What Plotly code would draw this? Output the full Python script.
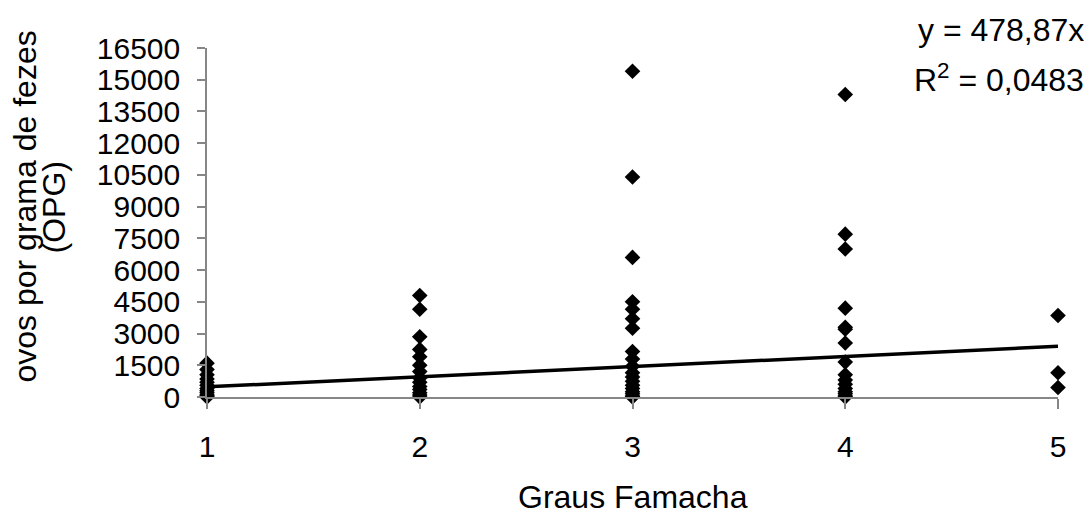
import plotly.graph_objects as go

# Data (OPG per Famacha grade)
grau1 = [1600, 1300, 1050, 850, 700, 550, 400, 300, 200, 100, 50, 0]
grau2 = [4800, 4150, 2850, 2250, 1900, 1500, 1200, 900, 700, 500, 350, 200, 100, 0]
grau3 = [15400, 10400, 6600, 4500, 4150, 3700, 3250, 2150, 1800, 1450, 1150, 950,
         750, 550, 400, 250, 150, 50, 0]
grau4 = [14300, 7700, 7000, 4200, 3300, 3200, 2550, 1650, 1050, 800, 600, 400,
         250, 150, 50, 0]
grau5 = [3850, 1150, 450]

slope = 478.87
r2_text = "0,0483"
eq_text = "478,87"

y_ticks = [0, 1500, 3000, 4500, 6000, 7500, 9000, 10500, 12000, 13500, 15000, 16500]
x_ticks = [1, 2, 3, 4, 5]

xs, ys = [], []
for g, vals in zip(x_ticks, [grau1, grau2, grau3, grau4, grau5]):
    xs += [g] * len(vals)
    ys += vals

FONT = "Liberation Sans, Arial, sans-serif"
AX = "#868686"
TICK_SIZE = 30
TEXT_SIZE = 32

fig = go.Figure()
fig.add_trace(go.Scatter(
    x=[x_ticks[0], x_ticks[-1]], y=[slope * x_ticks[0], slope * x_ticks[-1]],
    mode="lines", line=dict(color="black", width=3.5), cliponaxis=False,
    showlegend=False, hoverinfo="skip"))
fig.add_trace(go.Scatter(
    x=xs, y=ys, mode="markers",
    marker=dict(symbol="diamond", size=12, color="black"),
    cliponaxis=False, showlegend=False))

fig.update_layout(
    width=1084, height=509,
    margin=dict(l=199, r=34, t=40, b=120),
    paper_bgcolor="white", plot_bgcolor="white",
    font=dict(family=FONT, size=TEXT_SIZE, color="black"),
    xaxis=dict(range=[1, 5], tickvals=x_ticks, ticktext=[str(v) for v in x_ticks],
               showgrid=False, zeroline=False, showline=True, linecolor=AX, linewidth=1.5,
               ticks="outside", ticklen=10, tickcolor=AX, tickwidth=1.5,
               ticklabelstandoff=12, tickfont=dict(size=TICK_SIZE)),
    yaxis=dict(range=[0, 16500], tickvals=y_ticks, ticktext=[str(v) for v in y_ticks],
               showgrid=False, zeroline=False, showline=True, linecolor=AX, linewidth=1.5,
               ticks="outside", ticklen=8, tickcolor=AX, tickwidth=1.5,
               ticklabelstandoff=11, tickfont=dict(size=TICK_SIZE)),
)

anns = [
    dict(text="ovos por grama de fezes", x=0, xref="paper", y=0.5, yref="paper",
         xanchor="center", yanchor="middle", textangle=-90, xshift=-183, yshift=16,
         showarrow=False),
    dict(text="(OPG)", x=0, xref="paper", y=0.5, yref="paper",
         xanchor="center", yanchor="middle", textangle=-90, xshift=-154, yshift=15,
         showarrow=False),
    dict(text="Graus Famacha", x=0.5, xref="paper", y=0, yref="paper",
         xanchor="center", yanchor="middle", yshift=-100, showarrow=False),
    dict(text=f"y = {eq_text}x", x=1, xref="paper", y=1, yref="paper",
         xanchor="right", yanchor="middle", xshift=28, yshift=18, showarrow=False),
    dict(text=f"R<sup>2</sup> = {r2_text}", x=1, xref="paper", y=1, yref="paper",
         xanchor="right", yanchor="middle", xshift=28, yshift=-30, showarrow=False),
]
fig.update_layout(annotations=anns)

fig.write_html("out.html")
